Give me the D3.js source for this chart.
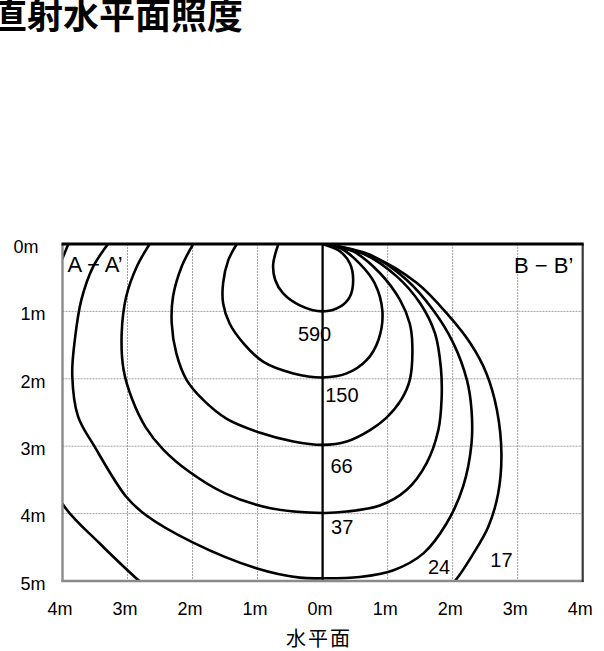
<!DOCTYPE html>
<html><head><meta charset="utf-8">
<script src="https://cdn.jsdelivr.net/npm/d3@7"></script>
<style>body{margin:0;background:#fff;overflow:hidden}</style>
</head><body><svg id="c" width="604" height="651"></svg>
<script>
// ---- data ----
const xTicks=[-4,-3,-2,-1,0,1,2,3,4];
const xTickLabels=["4m","3m","2m","1m","0m","1m","2m","3m","4m"];
const yTicks=[0,1,2,3,4,5];
const yTickLabels=["0m","1m","2m","3m","4m","5m"];
const levels=[590,150,66,37,24,17];
// contour points [x (m, negative = A side), depth (m)]
const c590=[[-0.68,0],[-0.76,0.3],[-0.73,0.53],[-0.61,0.73],[-0.35,0.91],[0,1.0],[0.27,0.93],[0.42,0.78],[0.47,0.53],[0.42,0.29],[0.27,0.11],[0,0]];
const c150=[[-1.32,0],[-1.45,0.24],[-1.53,0.58],[-1.53,0.88],[-1.43,1.18],[-1.22,1.47],[-0.91,1.75],[-0.45,1.92],[0,1.98],[0.37,1.92],[0.68,1.72],[0.86,1.42],[0.92,1.0],[0.80,0.58],[0.57,0.29],[0.27,0.06],[0,0]];
const c66=[[-1.99,0],[-2.17,0.34],[-2.30,0.78],[-2.32,1.18],[-2.25,1.62],[-2.09,2.02],[-1.84,2.31],[-1.48,2.59],[-0.96,2.80],[-0.45,2.93],[0,2.98],[0.37,2.93],[0.73,2.76],[0.98,2.58],[1.21,2.31],[1.34,2.02],[1.38,1.5],[1.34,1.18],[1.19,0.83],[0.88,0.43],[0.47,0.11],[0,0]];
const c37=[[-2.66,0],[-2.86,0.34],[-3.02,0.78],[-3.09,1.33],[-3.06,1.87],[-2.93,2.3],[-2.72,2.72],[-2.45,3.05],[-2.05,3.38],[-1.5,3.7],[-0.8,3.92],[0,3.99],[0.37,3.97],[0.88,3.88],[1.29,3.65],[1.60,3.25],[1.78,2.76],[1.83,2.3],[1.82,1.85],[1.73,1.33],[1.50,0.88],[1.14,0.48],[0.62,0.14],[0,0]];
const c24=[[-3.30,0],[-3.53,0.34],[-3.71,0.83],[-3.81,1.42],[-3.85,1.95],[-3.76,2.56],[-3.51,3.0],[-3.02,3.75],[-2.72,4.02],[-1.99,4.43],[-1.02,4.81],[-0.35,4.95],[0,4.96],[0.57,4.94],[1.09,4.84],[1.55,4.59],[1.91,4.14],[2.16,3.60],[2.29,2.96],[2.29,2.46],[2.22,2.02],[2.01,1.47],[1.70,0.98],[1.29,0.53],[0.73,0.16],[0,0]];
const c17=[[-3.91,0],[-4.0,0.21],[-4.3,0.9],[-4.5,1.9],[-4.4,3.0],[-3.99,3.87],[-3.43,4.44],[-3.0,4.84],[-2.78,5.03],[-2.0,5.55],[-1.0,5.83],[0,5.89],[1.0,5.75],[1.6,5.4],[2.01,5.03],[2.32,4.59],[2.55,4.19],[2.70,3.70],[2.75,3.11],[2.68,2.46],[2.52,1.92],[2.27,1.47],[1.91,1.03],[1.45,0.58],[0.8,0.2],[0,0]];
const contours=[c590,c150,c66,c37,c24,c17];
// label anchors (m)
const labelAt=[[-0.38,1.44],[0.04,2.34],[0.12,3.40],[0.13,4.30],[1.62,4.90],[2.58,4.79]];
const sideLabels=["A − A’","B − B’"];
const title="直射水平面照度";
const xTitle="水平面";

// ---- drawing ----
const svg=d3.select("#c");
const L=62.5,R=582.7,T=244,B=581;
const x=d3.scaleLinear().domain([-4,4]).range([L,R]);
const y=d3.scaleLinear().domain([0,5]).range([T,B]);
const latin="'Liberation Sans',Arial,sans-serif";
const cjk="'Noto Sans CJK JP',sans-serif";

svg.append("text").attr("x",-9).attr("y",29).attr("font-family",cjk).attr("font-weight",700)
  .attr("font-size",36).attr("fill","#000").text(title);

svg.append("defs").append("clipPath").attr("id","clip").append("rect")
  .attr("x",L).attr("y",T).attr("width",R-L).attr("height",B-T);

// grid
const g=svg.append("g");
g.selectAll("line.gx").data(xTicks.filter(d=>d!==-4&&d!==4&&d!==0)).join("line")
  .attr("x1",d=>x(d)).attr("x2",d=>x(d)).attr("y1",T).attr("y2",B)
  .attr("stroke","#a0a0a0").attr("stroke-width",1).attr("stroke-dasharray","2,1");
g.selectAll("line.gy").data(yTicks.filter(d=>d!==0&&d!==5)).join("line")
  .attr("x1",L).attr("x2",R).attr("y1",d=>y(d)).attr("y2",d=>y(d))
  .attr("stroke","#a0a0a0").attr("stroke-width",1).attr("stroke-dasharray","2,1");

// contours
const line=d3.line().x(d=>x(d[0])).y(d=>y(d[1])).curve(d3.curveCatmullRom.alpha(0.5));
svg.append("g").attr("clip-path","url(#clip)").selectAll("path").data(contours).join("path")
  .attr("d",line).attr("fill","none").attr("stroke","#000").attr("stroke-width",2.6);

// center line
svg.append("line").attr("x1",x(0)).attr("x2",x(0)).attr("y1",T).attr("y2",B)
  .attr("stroke","#000").attr("stroke-width",2.3);

// frame
svg.append("line").attr("x1",L).attr("x2",L).attr("y1",T).attr("y2",B+1).attr("stroke","#8a8a8a").attr("stroke-width",2.4);
svg.append("line").attr("x1",L-1).attr("x2",R+1).attr("y1",B).attr("y2",B).attr("stroke","#8a8a8a").attr("stroke-width",2.4);
svg.append("line").attr("x1",R).attr("x2",R).attr("y1",T).attr("y2",B+1).attr("stroke","#3a3a3a").attr("stroke-width",2.2);
svg.append("line").attr("x1",L-1).attr("x2",R+1).attr("y1",T).attr("y2",T).attr("stroke","#000").attr("stroke-width",2.8);

// axes labels
const ax=d3.axisBottom(x).tickValues(xTicks).tickFormat((d,i)=>xTickLabels[i]).tickSize(0).tickPadding(0);
const gx=svg.append("g").attr("transform",`translate(0,${B})`).call(ax);
gx.select(".domain").remove();
gx.selectAll("text").attr("font-family",latin).attr("font-size",18).attr("fill","#000")
  .attr("dy",null).attr("y",34).attr("dx",-3);
const ay=d3.axisLeft(y).tickValues(yTicks).tickFormat((d,i)=>yTickLabels[i]).tickSize(0).tickPadding(0);
const gy=svg.append("g").call(ay);
gy.select(".domain").remove();
gy.selectAll("text").attr("font-family",latin).attr("font-size",18).attr("fill","#000")
  .attr("x",(d,i)=>i===0?38.5:45.5).attr("dy","0.32em").attr("y",2.5).attr("text-anchor","end");

// contour labels
svg.append("g").selectAll("text").data(levels).join("text")
  .attr("x",(d,i)=>x(labelAt[i][0])).attr("y",(d,i)=>y(labelAt[i][1]))
  .attr("font-family",latin).attr("font-size",20).attr("fill","#000").text(d=>d);

// side labels
svg.append("text").attr("x",67.5).attr("y",272).attr("font-family",latin).attr("font-size",22).text(sideLabels[0]);
svg.append("text").attr("x",514).attr("y",273).attr("font-family",latin).attr("font-size",22).text(sideLabels[1]);

// x title
svg.append("text").attr("x",319).attr("y",646).attr("text-anchor","middle").attr("font-family",cjk)
  .attr("font-size",20).attr("letter-spacing",2).text(xTitle);
</script></body></html>
